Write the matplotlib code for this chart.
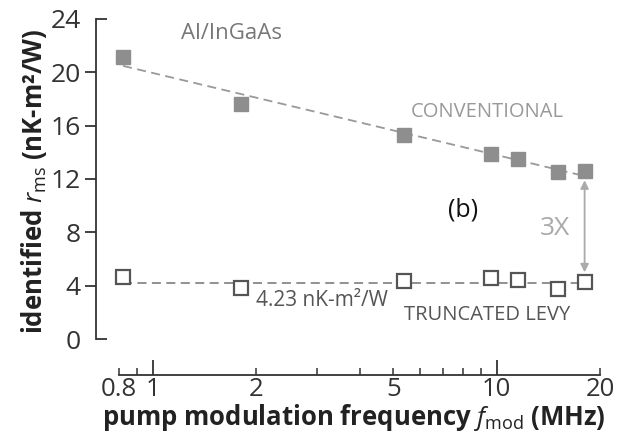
import numpy as np
import matplotlib.pyplot as plt
from matplotlib.ticker import FixedLocator, FixedFormatter, NullFormatter

plt.rcParams['font.family'] = ['Open Sans', 'DejaVu Sans']
plt.rcParams['mathtext.fontset'] = 'custom'
plt.rcParams['mathtext.rm'] = 'Open Sans'
plt.rcParams['mathtext.it'] = 'Open Sans:italic'
plt.rcParams['mathtext.bf'] = 'Open Sans:bold'

# data
freq = [0.82, 1.80, 5.38, 9.6, 11.5, 15.1, 18.0]          # MHz
r_conv = [21.1, 17.6, 15.3, 13.9, 13.5, 12.5, 12.6]       # conventional
r_trunc = [4.65, 3.85, 4.35, 4.55, 4.45, 3.75, 4.3]      # truncated levy
r_mean = 4.23
xticks = [0.8, 1, 2, 5, 10, 20]
xtick_labels = ['0.8', '1', '2', '5', '10', '20']

fig = plt.figure(figsize=(6.19, 4.37), dpi=100)
ax = fig.add_axes([0.155, 0.224, 0.822, 0.733])

# fitted trend of the conventional points (linear in log f)
lf = np.log10(freq)
p = np.polyfit(lf, r_conv, 1)
xf = np.array([freq[0], freq[-1]])
ax.plot(xf, np.polyval(p, np.log10(xf)), color='#999999', ls=(0, (5, 3)), lw=1.3, zorder=1)
ax.plot(xf, [r_mean, r_mean], color='#888888', ls=(0, (5, 3)), lw=1.3, zorder=1)

ax.plot(freq, r_conv, 's', ms=9.5, color='#8e8e8e', mec='#8e8e8e', zorder=3, clip_on=False)
ax.plot(freq, r_trunc, 's', ms=9.5, mfc='white', mec='#555555', mew=1.6, zorder=3, clip_on=False)

ax.set_xscale('log')
ax.set_xlim(0.684, 20.6)
ax.set_ylim(0, 24)

for s in ['top', 'right']:
    ax.spines[s].set_visible(False)
ax.spines['left'].set_bounds(0, 24)
ax.spines['bottom'].set_bounds(0.8, 20)
ax.spines['bottom'].set_position(('outward', 26))
for s in ['left', 'bottom']:
    ax.spines[s].set_color('#333333')
    ax.spines[s].set_linewidth(1.3)

# y ticks: inner ones point out, the two ends point in
ax.yaxis.set_major_locator(FixedLocator([4, 8, 12, 16, 20]))
ax.yaxis.set_minor_locator(FixedLocator([0, 24]))
ax.yaxis.set_minor_formatter(FixedFormatter(['0', '24']))
ax.tick_params(axis='y', which='major', direction='out', length=8, width=1.3,
               colors='#333333', labelsize=19, pad=3)
ax.tick_params(axis='y', which='minor', direction='in', length=8, width=1.3,
               colors='#333333', labelsize=19, pad=11)

ax.xaxis.set_major_locator(FixedLocator([1, 10]))
ax.xaxis.set_minor_locator(FixedLocator([0.8, 0.9, 2, 3, 4, 5, 6, 7, 8, 9, 20]))
ax.xaxis.set_major_formatter(NullFormatter())
ax.xaxis.set_minor_formatter(NullFormatter())
ax.tick_params(axis='x', which='major', direction='in', length=11, width=1.3, colors='#333333')
ax.tick_params(axis='x', which='minor', direction='in', length=5, width=1.1, colors='#333333')
for xv, lab in zip(xticks, xtick_labels):
    ax.annotate(lab, (xv, 0), xycoords=('data', 'axes fraction'), xytext=(0, -27),
                textcoords='offset points', ha='center', va='top', fontsize=18.5, color='#333333')

fig.text(0.572, 0.028, 'pump modulation frequency $f_{\\rm mod}$ (MHz)', fontsize=18.5,
         fontweight='bold', color='#222222', ha='center', va='baseline')
fig.text(0.055, 0.585, 'identified $r_{\\rm ms}$ (nK-m²/W)', fontsize=18.5, rotation=90,
         fontweight='bold', color='#222222', ha='center', va='center')

ax.text(1.69, 22.9, 'Al/InGaAs', fontsize=16, color='#777777', ha='center', va='center')
ax.text(9.4, 17.0, 'CONVENTIONAL', fontsize=14.5, color='#999999', ha='center', va='center')
ax.text(8.0, 9.7, '(b)', fontsize=18, color='#111111', ha='center', va='center')
ax.text(14.8, 8.3, '3X', fontsize=19, color='#aaaaaa', ha='center', va='center')
ax.text(3.1, 2.9, '4.23 nK-m²/W', fontsize=15, color='#555555', ha='center', va='center')
ax.text(9.35, 1.8, 'TRUNCATED LEVY', fontsize=14.5, color='#555555', ha='center', va='center')
ax.annotate('', xy=(freq[-1], 11.9), xytext=(freq[-1], 5.0),
            arrowprops=dict(arrowstyle='<|-|>', color='#aaaaaa', lw=1.3,
                            mutation_scale=12, shrinkA=0, shrinkB=0))

fig.savefig('out.png', dpi=100)
